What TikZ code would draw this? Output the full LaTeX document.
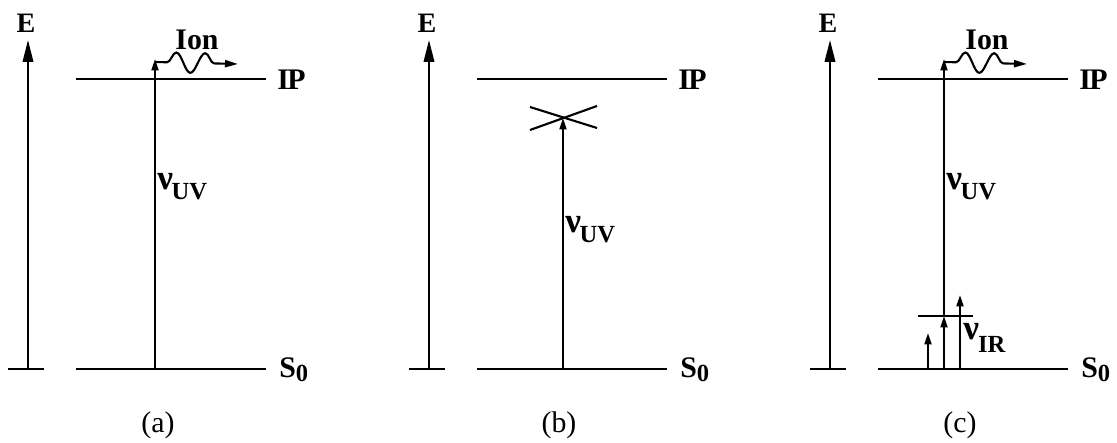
\documentclass[tikz,border=0pt]{standalone}
\usepackage{fontspec}
\setmainfont{Liberation Serif}
\usetikzlibrary{arrows.meta, decorations.pathmorphing}

\begin{document}
\begin{tikzpicture}[
    x=0.02cm, y=0.02cm,
    level/.style={line width=1.2pt},
    axis/.style={line width=1.2pt, -{Triangle[length=4.4mm, width=2.1mm]}},
    excite/.style={line width=1.2pt, -{Triangle[length=2.3mm, width=1.4mm]}},
    wavy/.style={line width=1.2pt, -{Triangle[length=2.6mm, width=1.4mm]}, decorate,
        decoration={snake, segment length=5.8mm, amplitude=2mm, pre length=2.4mm, post length=2.6mm}},
    lbl/.style={font=\fontsize{17}{20}\selectfont\bfseries, inner sep=0pt},
    nu/.style={font=\fontsize{20}{22}\selectfont\bfseries, inner sep=0pt},
    panellabel/.style={font=\fontsize{17}{20}\selectfont, inner sep=0pt}
]
\useasboundingbox (0,0) rectangle (1117,443);

% Common frame of each panel
\foreach \p/\dx in {a/0, b/401, c/802} {
  \begin{scope}[xshift=\dx*0.02cm]
    % energy axis
    \coordinate (tickL-\p) at (8,74);
    \coordinate (tickR-\p) at (44,74);
    \coordinate (axis-\p) at (28,74);
    \coordinate (top-\p) at (28,403);
    \draw[level] (tickL-\p) -- (tickR-\p);
    \draw[axis] (axis-\p) -- (top-\p);
    \node[lbl, font=\fontsize{16}{18}\selectfont\bfseries, anchor=base] (E-\p) at (26,410) {E};

    % levels
    \coordinate (s0L-\p) at (76,74);
    \coordinate (s0R-\p) at (266,74);
    \coordinate (ipL-\p) at (76,364);
    \coordinate (ipR-\p) at (266,364);
    \draw[level] (s0L-\p) -- (s0R-\p);
    \draw[level] (ipL-\p) -- (ipR-\p);
    \node[lbl, anchor=base west] (IP-\p) at (277,353) {I\kern-0.3mmP};
    \node[lbl, anchor=base west] (S0-\p) at (279,65) {S\raisebox{-0.8mm}{\fontsize{14}{16}\selectfont 0}};

    % caption
    \node[panellabel] (caption-\p) at (158,18) {(\p)};
  \end{scope}
}

% (a) direct ionisation
\coordinate (uvA0) at (155,74);
\coordinate (uvA1) at (155,384);
\draw[excite] (uvA0) -- (uvA1);
\node[nu, anchor=base west] (nuA) at (157,253) {ν\kern-0.3mm\raisebox{-2mm}{\fontsize{14}{16}\selectfont UV}};
\coordinate (ionA0) at (155,381);
\coordinate (ionA1) at (238,379);
\draw[wavy] (ionA0) -- (ionA1);
\node[lbl, anchor=base] (ionA) at (197,393) {Ion};

% (b) below threshold
\coordinate (uvB0) at (563,74);
\coordinate (uvB1) at (563,325);
\draw[excite] (uvB0) -- (uvB1);
\coordinate (crossNW) at (530,336);
\coordinate (crossSE) at (597,315);
\coordinate (crossSW) at (530,313);
\coordinate (crossNE) at (597,337);
\draw[level] (crossNW) -- (crossSE);
\draw[level] (crossSW) -- (crossNE);
\node[nu, anchor=base west] (nuB) at (565,210) {ν\kern-0.3mm\raisebox{-2mm}{\fontsize{14}{16}\selectfont UV}};

% (c) IR + UV
\coordinate (uvC0) at (944,74);
\coordinate (uvCm) at (944,127);
\coordinate (uvC1) at (944,384);
\draw[excite] (uvC0) -- (uvCm);
\draw[excite] (uvCm) -- (uvC1);
\coordinate (vibL) at (918,127);
\coordinate (vibR) at (973,127);
\draw[level] (vibL) -- (vibR);
\coordinate (irA0) at (928,74);
\coordinate (irA1) at (928,110);
\coordinate (irB0) at (960,74);
\coordinate (irB1) at (960,148);
\draw[excite] (irA0) -- (irA1);
\draw[excite] (irB0) -- (irB1);
\node[nu, anchor=base west] (nuIR) at (963,103) {ν\kern-0.2mm\raisebox{-2.6mm}{\fontsize{14}{16}\selectfont IR}};
\node[nu, anchor=base west] (nuC) at (946,253) {ν\kern-0.3mm\raisebox{-2mm}{\fontsize{14}{16}\selectfont UV}};
\coordinate (ionC0) at (944,381);
\coordinate (ionC1) at (1027,379);
\draw[wavy] (ionC0) -- (ionC1);
\node[lbl, anchor=base] (ionC) at (987,393) {Ion};

\end{tikzpicture}
\end{document}
